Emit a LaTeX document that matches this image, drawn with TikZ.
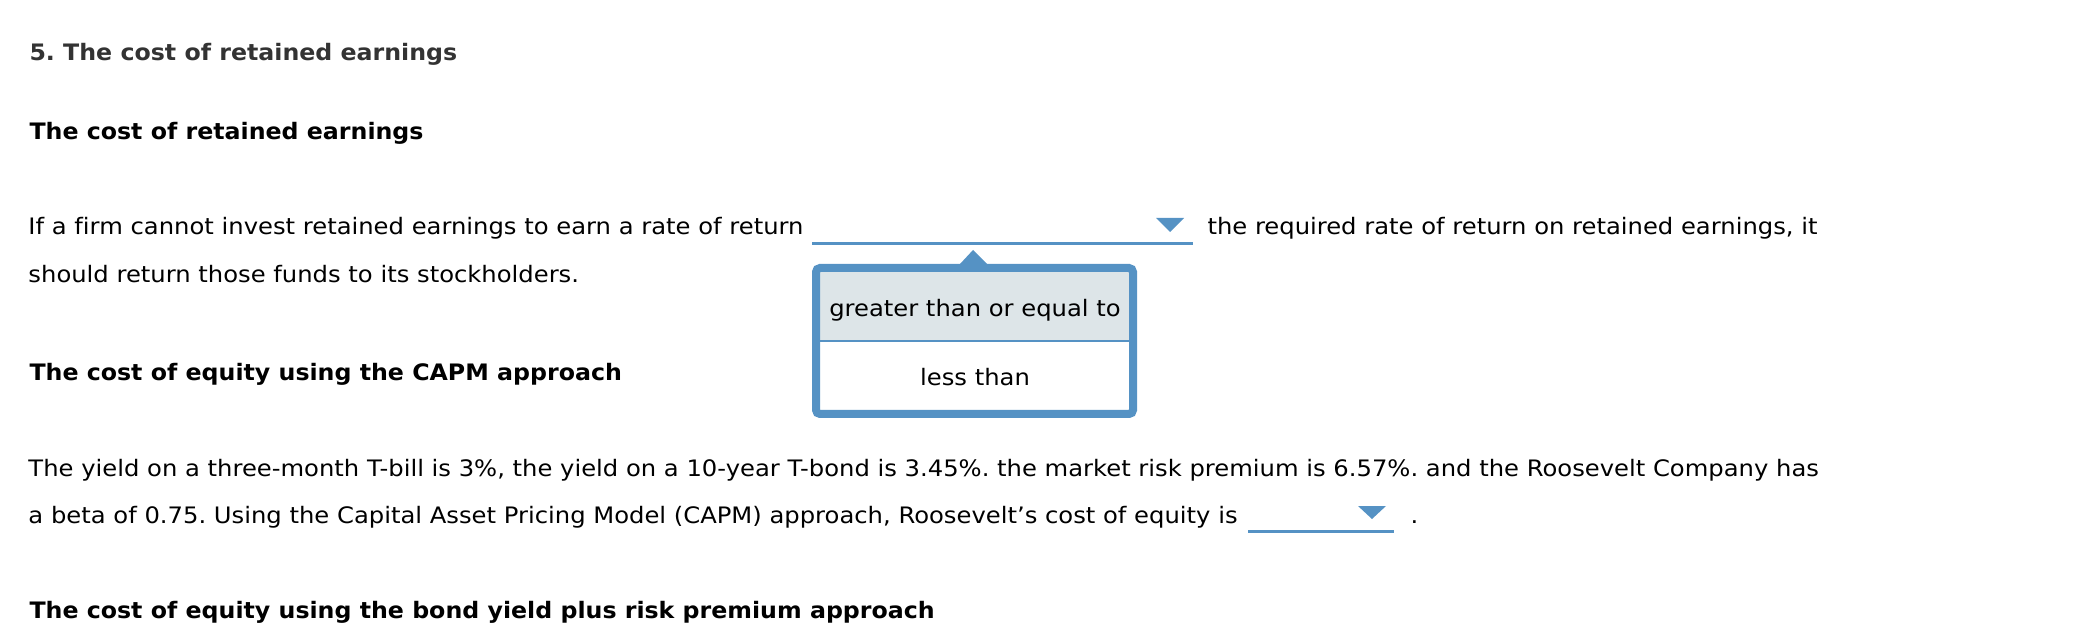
\documentclass[tikz,border=0pt]{standalone}
\usepackage{fontspec}
\setmainfont{DejaVu Sans}[Ligatures=NoCommon,FakeStretch=1.07,BoldFeatures={FakeStretch=1.045}]
\frenchspacing

\definecolor{ddblue}{RGB}{85,146,196}
\definecolor{ddgray}{RGB}{221,229,232}
\definecolor{headgray}{RGB}{51,51,51}

\tikzset{every picture/.style={line width=0.75pt},
  bodytext/.style={anchor=base west,inner sep=0pt,font=\fontsize{17}{20}\selectfont},
  headtext/.style={anchor=base west,inner sep=0pt,font=\fontsize{17}{20}\selectfont\bfseries},
  choicetext/.style={anchor=base,inner sep=0pt,font=\fontsize{17}{20}\selectfont},
  ddline/.style={draw=ddblue,line width=2.5pt},
  ddarrow/.style={fill=ddblue,draw=none}}

\begin{document}
\begin{tikzpicture}[x=0.75pt,y=0.75pt,yscale=-1,xscale=1]
\useasboundingbox (0,0) rectangle (2074,641);

% Text Node
\draw (29,61) node [headtext,text=headgray] (title) {5. The cost of retained earnings};
% Text Node
\draw (29,140) node [headtext] (headret) {The cost of retained earnings};

% Text Node
\draw (28,235) node [bodytext] (retA) {If a firm cannot invest retained earnings to earn a rate of return};
% Text Node
\draw (1207,235) node [bodytext] (retB) {the required rate of return on retained earnings, it};
% Text Node
\draw (28,283) node [bodytext] (retC) {should return those funds to its stockholders.};

%Straight Lines [dropdown 1]
\draw [ddline] (812,243.5) -- (1193,243.5) ;
\fill [ddarrow] (1156,218) -- (1184,218) -- (1170,232) -- cycle ;

%Shape: Popup notch
\fill [ddarrow] (960,264) -- (973,250) -- (987,264) -- cycle ;
%Shape: Popup box
\fill [white] (816,268) rectangle (1133,414) ;
\fill [ddgray] (820,272) rectangle (1129,341) ;
\draw [draw=ddblue,line width=1.5pt] (820,341) -- (1129,341) ;
\draw [draw=ddblue,line width=6pt,rounded corners=3pt] (816,268) rectangle (1133,414) ;

% Text Node
\draw (975,317) node [choicetext] (choiceA) {greater than or equal to};
% Text Node
\draw (975,386) node [choicetext] (choiceB) {less than};

% Text Node
\draw (29,381) node [headtext] (headcapm) {The cost of equity using the CAPM approach};

% Text Node
\draw (28,476) node [bodytext] (capmA) {The yield on a three-month T-bill is 3\%, the yield on a 10-year T-bond is 3.45\%. the market risk premium is 6.57\%. and the Roosevelt Company has};
% Text Node
\draw (28,523) node [bodytext] (capmB) {a beta of 0.75. Using the Capital Asset Pricing Model (CAPM) approach, Roosevelt’s cost of equity is};

%Straight Lines [dropdown 2]
\draw [ddline] (1248,531.5) -- (1394,531.5) ;
\fill [ddarrow] (1358,506) -- (1386,506) -- (1372,519) -- cycle ;
% Text Node
\draw (1410,523) node [bodytext] (capmdot) {.};

% Text Node
\draw (29,618) node [headtext] (headbond) {The cost of equity using the bond yield plus risk premium approach};

\end{tikzpicture}
\end{document}
